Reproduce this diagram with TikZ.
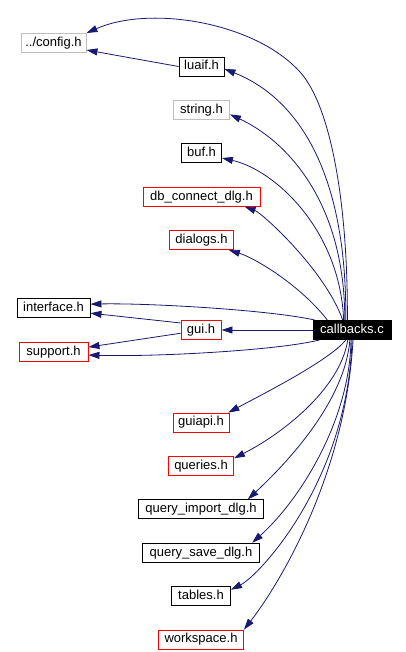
\documentclass[tikz,border=0pt]{standalone}
\usepackage{fontspec}
\setmainfont{Liberation Sans}
\usetikzlibrary{positioning,arrows.meta}
\definecolor{edgeblue}{HTML}{191970}
\definecolor{sysgray}{HTML}{BFBFBF}
\definecolor{truncred}{HTML}{FF0000}

\begin{document}
\begin{tikzpicture}[
  x=1pt, y=-1pt,
  font=\fontsize{13}{15}\selectfont,
  box/.style={draw=black, fill=white, line width=0.9pt, inner sep=0pt, minimum height=19pt, text height=9.5pt, text depth=2.8pt},
  hdr/.style={box},
  sys/.style={box, draw=sysgray},
  trunc/.style={box, draw=truncred},
  root/.style={box, fill=black, text=white},
  arr/.style={-{Triangle[length=11pt, width=7pt]}, line width=0.8pt, draw=edgeblue}
]
\useasboundingbox (0,0) rectangle (406,652);

% upper column
\node[sys, minimum width=65pt] (cfg) at (53.5,43) {../config.h};
\node[hdr, minimum width=45pt] (luaif) at (201.5,66.5) {luaif.h};
\node[sys, minimum width=56pt, below=23.5pt of luaif] (str) {string.h};
\node[hdr, minimum width=40pt, below=23.5pt of str] (buf) {buf.h};
\node[trunc, minimum width=117pt, below=23.5pt of buf] (dbc) {db\_connect\_dlg.h};
\node[trunc, minimum width=64pt, below=23.5pt of dbc] (dlg) {dialogs.h};

% middle row
\node[hdr, minimum width=73pt] (iface) at (53.5,308) {interface.h};
\node[trunc, minimum width=40pt] (gui) at (201,330) {gui.h};
\node[trunc, minimum width=69pt] (supp) at (53.5,352) {support.h};
\node[root, minimum width=78pt] (cb) at (352,330) {callbacks.c};

% lower column
\node[trunc, minimum width=56pt] (gapi) at (201,422.5) {guiapi.h};
\node[trunc, minimum width=65pt, below=23.5pt of gapi] (qry) {queries.h};
\node[hdr, minimum width=125pt, below=23.5pt of qry] (qimp) {query\_import\_dlg.h};
\node[hdr, minimum width=117pt, below=23.5pt of qimp] (qsav) {query\_save\_dlg.h};
\node[hdr, minimum width=59pt, below=23.5pt of qsav] (tbl) {tables.h};
\node[trunc, minimum width=85pt, below=23.5pt of tbl] (wsp) {workspace.h};

% includes
\draw[arr] (cb.115) .. controls (348,200) and (330,105) .. (300,72)
  .. controls (255,22) and (150,5) .. (cfg.north east);
\draw[arr] (luaif.west) -- (cfg.-12);
\draw[arr] (cb.122) .. controls (347,160) and (290,95) .. (luaif.-6);
\draw[arr] (cb.126) .. controls (345,200) and (285,140) .. (str.-9);
\draw[arr] (cb.130) .. controls (340,230) and (275,170) .. (buf.-13);
\draw[arr] (cb.133) .. controls (325,270) and (262,213) .. (dbc.-13);
\draw[arr] (cb.158) .. controls (300,285) and (255,258) .. (dlg.-20);
\draw[arr] (cb.165) .. controls (270,310) and (150,303) .. (iface.6);
\draw[arr] (cb.west) -- (gui.east);
\draw[arr] (gui.161) -- (iface.-8);
\draw[arr] (gui.189) -- (supp.8);
\draw[arr] (cb.-163) .. controls (280,350) and (160,357) .. (supp.-5);
\draw[arr] (cb.-122) .. controls (330,360) and (265,393) .. (gapi.20);
\draw[arr] (cb.-113) .. controls (340,390) and (280,435) .. (qry.13);
\draw[arr] (cb.-102) .. controls (345,400) and (290,460) .. (qimp.12);
\draw[arr] (cb.-96) .. controls (350,420) and (300,500) .. (qsav.11);
\draw[arr] (cb.-90) .. controls (348,480) and (260,575) .. (tbl.12);
\draw[arr] (cb.-84) .. controls (345,480) and (275,590) .. (wsp.north east);
\end{tikzpicture}
\end{document}
